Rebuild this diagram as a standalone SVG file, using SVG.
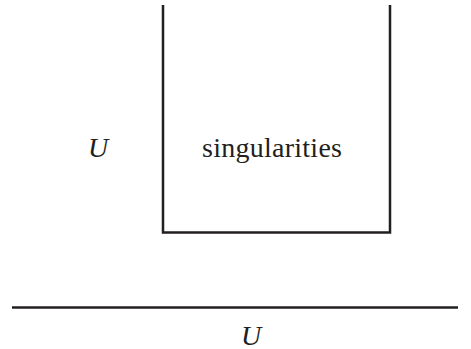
<svg xmlns="http://www.w3.org/2000/svg" width="471" height="349" viewBox="0 0 471 349">
<style>
.ln{stroke:#231f20;stroke-width:2.5;fill:none}
.t{font-family:"Liberation Serif",serif;font-size:28px;fill:#231f20}
.it{font-style:italic}
</style>
<rect width="471" height="349" fill="#fff"/>
<g id="box">
<path class="ln" d="M163,5 V232.5 H390 V5"/>
<text class="t" x="272" y="157" text-anchor="middle" textLength="140">singularities</text>
</g>
<g id="labelU1"><text class="t it" x="98" y="157" text-anchor="middle">U</text></g>
<g id="base">
<line class="ln" x1="12" y1="307.5" x2="458" y2="307.5"/>
<text class="t it" x="251" y="345" text-anchor="middle">U</text>
</g>
<g id="connectors"></g>
</svg>
